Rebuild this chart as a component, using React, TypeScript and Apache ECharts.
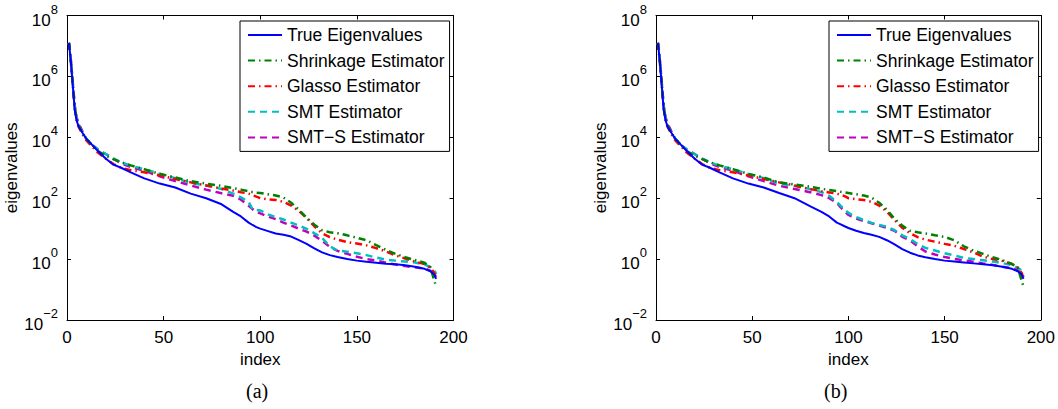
import React, { useEffect, useRef } from "react";
import * as echarts from "echarts";

const INDEX = [1, 2, 3, 4, 5, 6, 8, 10, 13, 16, 20, 24, 28, 33, 40, 48, 56, 64, 72, 80, 86, 90, 94, 96, 98, 100, 104, 108, 112, 116, 120, 124, 128, 132, 136, 140, 145, 150, 155, 160, 165, 170, 175, 180, 185, 188, 190, 191];

const SERIES_NAMES = ["True Eigenvalues", "Shrinkage Estimator", "Glasso Estimator", "SMT Estimator", "SMT\u2212S Estimator"];

// ---- panel (a) ----
const TRUE_A = [1.26e7, 3.16e6, 5.01e5, 7.94e4, 3.55e4, 2.24e4, 1.41e4, 8910, 5620, 3550, 2000, 1260, 1000, 708, 447, 302, 224, 141, 100, 63.1, 35.5, 25.1, 15.8, 13.2, 11.2, 10, 8.32, 6.92, 6.31, 5.5, 4.17, 3.16, 2.24, 1.66, 1.35, 1.17, 1.0, 0.891, 0.813, 0.759, 0.708, 0.676, 0.631, 0.562, 0.479, 0.398, 0.316, 0.224];
const SHRINK_A = [1.26e7, 3.16e6, 5.62e5, 1.0e5, 3.98e4, 2.51e4, 1.41e4, 8910, 5620, 3550, 2510, 1910, 1510, 1200, 891, 631, 479, 363, 302, 251, 214, 191, 170, 158, 151, 148, 135, 123, 105, 70.8, 41.7, 22.9, 13.5, 8.91, 7.59, 7.08, 6.03, 5.01, 4.17, 2.88, 2.0, 1.48, 1.15, 0.933, 0.759, 0.537, 0.2, 0.126];
const GLASSO_A = [1.26e7, 3.16e6, 5.01e5, 8.91e4, 3.55e4, 2.24e4, 1.26e4, 7940, 5010, 3160, 2000, 1320, 1000, 832, 708, 562, 427, 331, 263, 209, 178, 158, 141, 126, 112, 100, 91.2, 87.1, 75.9, 57.5, 38.0, 22.4, 12.0, 7.08, 5.25, 4.37, 3.63, 3.24, 2.82, 2.29, 1.78, 1.32, 1.05, 0.832, 0.692, 0.525, 0.355, 0.24];
const SMT_A = [1.26e7, 3.16e6, 5.62e5, 1.0e5, 3.98e4, 2.51e4, 1.41e4, 8910, 5620, 3980, 2820, 2000, 1510, 1170, 891, 631, 457, 316, 263, 200, 141, 107, 75.9, 42.7, 40.7, 39.8, 29.5, 24.0, 20.0, 15.8, 12.6, 9.77, 7.08, 5.01, 2.63, 1.91, 1.74, 1.55, 1.35, 1.12, 0.955, 0.891, 0.832, 0.776, 0.661, 0.55, 0.447, 0.316];
const SMTS_A = [1.26e7, 3.55e6, 6.31e5, 1.12e5, 4.47e4, 2.82e4, 1.58e4, 8910, 5620, 3980, 2820, 2000, 1410, 1050, 794, 525, 363, 263, 191, 145, 120, 89.1, 56.2, 43.7, 36.3, 31.6, 25.1, 20.4, 15.8, 12.6, 10, 7.94, 5.89, 3.98, 2.51, 1.86, 1.48, 1.2, 1.0, 0.891, 0.759, 0.661, 0.589, 0.537, 0.49, 0.417, 0.339, 0.263];

// ---- panel (b) ----
const TRUE_B = [1.26e7, 3.16e6, 5.01e5, 7.94e4, 3.55e4, 2.24e4, 1.41e4, 8910, 5620, 3550, 2000, 1260, 1000, 708, 447, 302, 224, 148, 100, 55.0, 35.5, 25.1, 15.8, 13.8, 12.0, 10.5, 8.51, 7.24, 6.31, 5.37, 4.17, 3.02, 2.14, 1.62, 1.32, 1.15, 1.0, 0.891, 0.832, 0.776, 0.724, 0.676, 0.631, 0.562, 0.479, 0.398, 0.316, 0.224];
const SHRINK_B = [1.26e7, 3.16e6, 5.62e5, 1.0e5, 3.98e4, 2.51e4, 1.41e4, 8910, 5620, 3550, 2510, 1910, 1510, 1200, 891, 631, 479, 331, 282, 240, 204, 186, 170, 162, 155, 148, 135, 123, 105, 70.8, 41.7, 20.9, 12.6, 8.51, 7.59, 6.92, 6.03, 5.37, 4.17, 2.63, 1.91, 1.48, 1.15, 0.933, 0.692, 0.525, 0.2, 0.126];
const GLASSO_B = [1.26e7, 3.16e6, 5.01e5, 8.91e4, 3.55e4, 2.24e4, 1.26e4, 7940, 5010, 3160, 2000, 1320, 1000, 832, 708, 562, 427, 331, 263, 200, 170, 155, 141, 129, 117, 100, 93.3, 87.1, 75.9, 57.5, 36.3, 19.1, 10.7, 7.08, 5.25, 4.37, 3.72, 3.16, 2.75, 2.14, 1.66, 1.2, 1.0, 0.871, 0.692, 0.525, 0.355, 0.24];
const SMT_B = [1.26e7, 3.16e6, 5.62e5, 1.0e5, 3.98e4, 2.51e4, 1.41e4, 8910, 5620, 3980, 2820, 2000, 1510, 1170, 891, 631, 457, 302, 251, 200, 158, 120, 75.9, 56.2, 41.7, 33.1, 24.0, 19.1, 15.5, 13.2, 11.7, 8.91, 6.03, 4.57, 3.16, 2.34, 1.91, 1.55, 1.32, 1.1, 1.0, 0.912, 0.832, 0.741, 0.631, 0.525, 0.417, 0.316];
const SMTS_B = [1.26e7, 3.55e6, 6.31e5, 1.12e5, 4.47e4, 2.82e4, 1.58e4, 8910, 5620, 3980, 2820, 2000, 1410, 1050, 794, 525, 363, 257, 200, 158, 126, 100, 70.8, 50.1, 38.0, 28.2, 21.4, 17.8, 15.1, 12.6, 10.5, 8.51, 5.37, 4.17, 2.63, 1.78, 1.41, 1.17, 1.02, 0.912, 0.813, 0.724, 0.646, 0.562, 0.501, 0.427, 0.339, 0.263];

const X_TICKS_MAX = 200;
const X_TICK_STEP = 50;
const Y_MIN = 1e-2;
const Y_MAX = 1e8;

const FONT = "Liberation Sans, Arial, Helvetica, sans-serif";
const SERIF = "Liberation Serif, Times New Roman, serif";

const STYLES = [
  { color: "#0000ff", type: "solid" as any, width: 2 },
  { color: "#008000", type: [7, 4, 1.5, 4], width: 2.5 },
  { color: "#ff0000", type: [7, 4, 1.5, 4], width: 2.5 },
  { color: "#00bfbf", type: [7, 5], width: 2.5 },
  { color: "#bf00bf", type: [7, 5], width: 2.5 },
];

function pairs(ys: number[]) {
  return INDEX.map((x, i) => [x, ys[i]]);
}

function buildOption() {
  const panels = [
    { left: 67, data: [TRUE_A, SHRINK_A, GLASSO_A, SMT_A, SMTS_A], caption: "(a)", capX: 258 },
    { left: 656, data: [TRUE_B, SHRINK_B, GLASSO_B, SMT_B, SMTS_B], caption: "(b)", capX: 836 },
  ];
  const grid: any[] = [];
  const xAxis: any[] = [];
  const yAxis: any[] = [];
  const series: any[] = [];
  const legend: any[] = [];
  const graphic: any[] = [];

  panels.forEach((p, pi) => {
    grid.push({ left: p.left, top: 15.5, width: 386.5, height: 304.5, show: false });
    const tickStyle = { show: true, inside: true, length: 4, lineStyle: { color: "#000", width: 1 } };
    const lineStyle = { show: true, onZero: false, lineStyle: { color: "#000", width: 1 } };
    // bottom x
    xAxis.push({
      type: "value", gridIndex: pi, min: 0, max: X_TICKS_MAX, interval: X_TICK_STEP, position: "bottom",
      axisLine: lineStyle, axisTick: tickStyle, splitLine: { show: false },
      axisLabel: { show: true, margin: 9, fontSize: 17, color: "#000", fontFamily: FONT },
      name: "index", nameLocation: "middle", nameGap: 26,
      nameTextStyle: { fontSize: 17, color: "#000", fontFamily: FONT },
    });
    // top x
    xAxis.push({
      type: "value", gridIndex: pi, min: 0, max: X_TICKS_MAX, interval: X_TICK_STEP, position: "top",
      axisLine: lineStyle, axisTick: tickStyle, splitLine: { show: false }, axisLabel: { show: false },
    });
    const yLabel = {
      show: true, margin: 9, color: "#000", fontFamily: FONT,
      formatter: (v: number) => {
        const e = Math.round(Math.log10(v));
        return "{b|10}{s|" + (e < 0 ? "\u2212" + -e : String(e)) + "}";
      },
      rich: {
        b: { fontSize: 17, fontFamily: FONT, color: "#000", lineHeight: 26, verticalAlign: "bottom", padding: [6, 0, 0, 0] },
        s: { fontSize: 13, fontFamily: FONT, color: "#000", verticalAlign: "top", padding: [0, 0, 0, 0] },
      },
    };
    yAxis.push({
      type: "log", logBase: 10, gridIndex: pi, min: Y_MIN, max: Y_MAX, interval: 2, position: "left",
      axisLine: lineStyle, axisTick: tickStyle, splitLine: { show: false }, minorTick: { show: false },
      axisLabel: yLabel,
      name: "eigenvalues", nameLocation: "middle", nameGap: 44, nameRotate: 90,
      nameTextStyle: { fontSize: 17, color: "#000", fontFamily: FONT },
    });
    yAxis.push({
      type: "log", logBase: 10, gridIndex: pi, min: Y_MIN, max: Y_MAX, interval: 2, position: "right",
      axisLine: lineStyle, axisTick: tickStyle, splitLine: { show: false }, axisLabel: { show: false },
    });

    p.data.forEach((ys, si) => {
      series.push({
        type: "line", name: SERIES_NAMES[si], xAxisIndex: pi * 2, yAxisIndex: pi * 2,
        data: pairs(ys), symbol: "none", showSymbol: false, clip: true,
        lineStyle: { color: STYLES[si].color, width: STYLES[si].width, type: STYLES[si].type },
        itemStyle: { color: STYLES[si].color },
        z: 10 - si,
      });
    });

    legend.push({
      show: true, orient: "vertical", left: p.left + 173, top: 21,
      itemWidth: 34, itemHeight: 14, itemGap: 7.6,
      borderColor: "#000", borderWidth: 1, backgroundColor: "#fff",
      padding: [5, 5, 5, 7], selectedMode: false,
      itemStyle: { opacity: 0, color: "transparent", borderWidth: 0 },
      textStyle: { fontSize: 17.5, color: "#000", fontFamily: FONT },
      data: SERIES_NAMES,
    });

    graphic.push({
      type: "text", left: p.capX - 12, top: 381,
      style: { text: p.caption, font: "20px " + SERIF, fill: "#000" },
    });
  });

  return { animation: false, backgroundColor: "#fff", grid, xAxis, yAxis, series, legend, graphic };
}

export default function App() {
  const ref = useRef<HTMLDivElement>(null);
  useEffect(() => {
    document.body.style.margin = "0";
    const chart = echarts.init(ref.current!, null, { renderer: "svg" });
    chart.setOption(buildOption() as any);
    return () => chart.dispose();
  }, []);
  return <div ref={ref} style={{ width: 1058, height: 409 }} />;
}
